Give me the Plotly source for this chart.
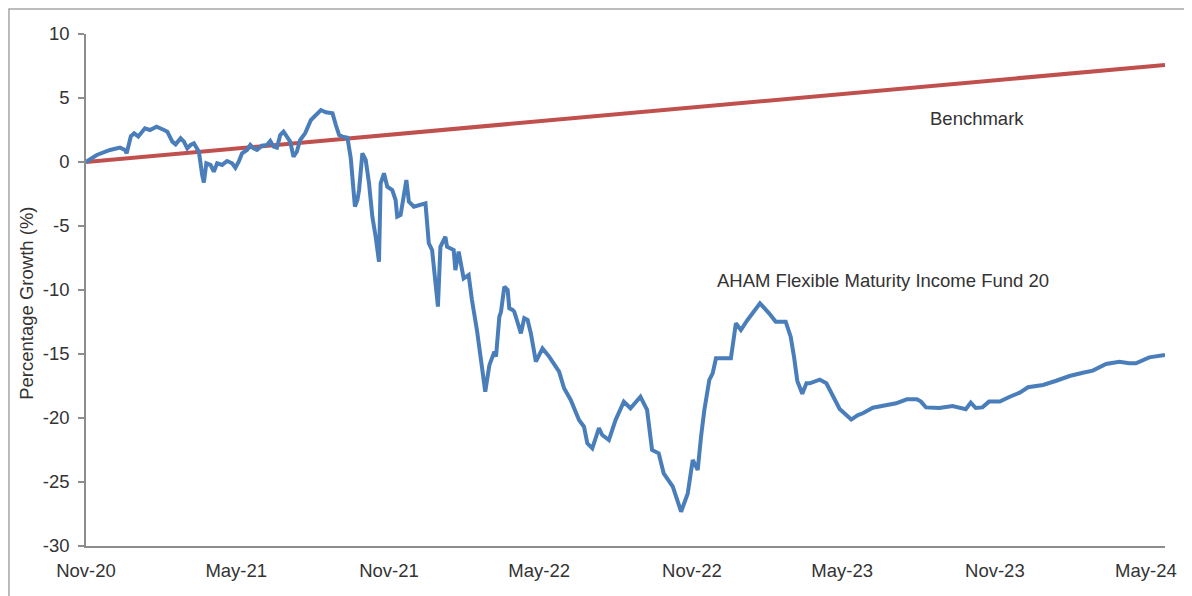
import plotly.graph_objects as go

# ---- data ----
fund_dates = [
    "2020-11-01", "2020-11-14", "2020-11-30", "2020-12-12", "2020-12-18", "2020-12-20", "2020-12-25", "2020-12-29",
    "2021-01-03", "2021-01-11", "2021-01-17", "2021-01-25", "2021-02-03", "2021-02-07", "2021-02-13", "2021-02-17",
    "2021-02-23", "2021-02-27", "2021-03-03", "2021-03-07", "2021-03-11", "2021-03-15", "2021-03-17", "2021-03-21",
    "2021-03-23", "2021-03-26", "2021-03-31", "2021-04-04", "2021-04-08", "2021-04-14", "2021-04-20", "2021-04-26",
    "2021-04-30", "2021-05-04", "2021-05-08", "2021-05-14", "2021-05-18", "2021-05-22", "2021-05-26", "2021-06-01",
    "2021-06-07", "2021-06-11", "2021-06-15", "2021-06-19", "2021-06-23", "2021-06-27", "2021-07-01", "2021-07-05",
    "2021-07-09", "2021-07-13", "2021-07-17", "2021-07-23", "2021-07-30", "2021-08-05", "2021-08-11", "2021-08-17",
    "2021-08-25", "2021-08-29", "2021-09-02", "2021-09-06", "2021-09-12", "2021-09-16", "2021-09-18", "2021-09-21",
    "2021-09-24", "2021-09-26", "2021-09-30", "2021-10-04", "2021-10-08", "2021-10-12", "2021-10-16", "2021-10-20",
    "2021-10-22", "2021-10-26", "2021-10-30", "2021-11-05", "2021-11-09", "2021-11-11", "2021-11-15", "2021-11-19",
    "2021-11-22", "2021-11-25", "2021-12-01", "2021-12-15", "2021-12-19", "2021-12-23", "2021-12-27", "2021-12-30",
    "2022-01-02", "2022-01-08", "2022-01-10", "2022-01-18", "2022-01-20", "2022-01-24", "2022-01-30", "2022-02-05",
    "2022-02-09", "2022-02-15", "2022-02-21", "2022-02-25", "2022-03-02", "2022-03-08", "2022-03-10", "2022-03-14",
    "2022-03-16", "2022-03-20", "2022-03-24", "2022-03-26", "2022-03-30", "2022-04-01", "2022-04-09", "2022-04-13",
    "2022-04-17", "2022-04-21", "2022-04-27", "2022-05-05", "2022-05-13", "2022-05-17", "2022-05-25", "2022-05-31",
    "2022-06-08", "2022-06-18", "2022-06-24", "2022-06-28", "2022-07-04", "2022-07-12", "2022-07-16", "2022-07-24",
    "2022-08-01", "2022-08-11", "2022-08-19", "2022-08-31", "2022-09-08", "2022-09-14", "2022-09-22", "2022-09-28",
    "2022-10-09", "2022-10-19", "2022-10-27", "2022-11-02", "2022-11-08", "2022-11-12", "2022-11-16", "2022-11-22",
    "2022-11-26", "2022-11-30", "2022-12-18", "2022-12-24", "2022-12-30", "2023-01-07", "2023-01-13", "2023-01-22",
    "2023-02-02", "2023-02-10", "2023-02-22", "2023-02-28", "2023-03-04", "2023-03-08", "2023-03-14", "2023-03-19",
    "2023-03-23", "2023-04-04", "2023-04-12", "2023-04-20", "2023-04-28", "2023-05-06", "2023-05-12", "2023-05-20",
    "2023-05-26", "2023-06-07", "2023-06-23", "2023-07-05", "2023-07-18", "2023-07-30", "2023-08-04", "2023-08-10",
    "2023-08-26", "2023-09-11", "2023-09-27", "2023-10-03", "2023-10-09", "2023-10-17", "2023-10-25", "2023-11-07",
    "2023-11-19", "2023-12-01", "2023-12-11", "2023-12-29", "2024-01-14", "2024-01-30", "2024-02-15", "2024-02-27",
    "2024-03-14", "2024-03-30", "2024-04-11", "2024-04-19", "2024-05-05", "2024-05-24",
]
fund_values = [
    0.00, 0.55, 0.94, 1.12, 0.94, 0.68, 2.00, 2.24,
    2.00, 2.63, 2.50, 2.76, 2.50, 2.37, 1.59, 1.38,
    1.85, 1.59, 1.07, 1.33, 1.46, 1.07, 0.80, -1.02,
    -1.60, -0.10, -0.23, -0.76, -0.10, -0.23, 0.08, -0.10,
    -0.45, 0.02, 0.68, 0.94, 1.33, 1.07, 0.94, 1.27,
    1.33, 1.64, 1.20, 1.12, 2.10, 2.37, 1.98, 1.59,
    0.41, 0.80, 1.72, 2.24, 3.28, 3.67, 4.06, 3.88,
    3.80, 2.89, 2.10, 1.98, 1.90, 0.29, -1.15, -3.49,
    -2.97, -2.19, 0.68, 0.16, -1.66, -4.27, -5.84, -7.79,
    -1.66, -0.88, -1.93, -2.19, -2.97, -4.27, -4.14, -2.45,
    -1.41, -3.10, -3.49, -3.23, -6.35, -6.88, -9.74, -11.30,
    -6.62, -5.84, -6.62, -6.88, -8.44, -7.00, -9.09, -8.83,
    -10.78, -13.13, -16.00, -17.95, -15.87, -14.82, -15.20, -12.09,
    -11.70, -9.74, -10.00, -11.43, -11.56, -11.70, -13.39, -12.20,
    -12.34, -13.39, -15.60, -14.56, -15.20, -15.60, -16.38, -17.68,
    -18.59, -20.16, -20.68, -21.98, -22.37, -20.80, -21.33, -21.72,
    -20.16, -18.73, -19.24, -18.34, -19.37, -22.50, -22.76, -24.32,
    -25.37, -27.32, -25.89, -23.28, -24.06, -21.46, -19.37, -17.03,
    -16.51, -15.34, -15.34, -12.60, -13.13, -12.34, -11.82, -11.04,
    -11.82, -12.48, -12.48, -13.65, -15.20, -17.10, -18.10, -17.29,
    -17.29, -17.00, -17.29, -18.30, -19.30, -19.77, -20.12, -19.77,
    -19.63, -19.20, -18.98, -18.85, -18.54, -18.54, -18.72, -19.17,
    -19.22, -19.06, -19.32, -18.80, -19.22, -19.17, -18.72, -18.72,
    -18.34, -18.02, -17.60, -17.42, -17.09, -16.72, -16.46, -16.30,
    -15.78, -15.60, -15.73, -15.73, -15.26, -15.08,
]

bench_dates = ["2020-11-01", "2021-05-01", "2021-11-01", "2022-05-01",
               "2022-11-01", "2023-05-01", "2023-11-01", "2024-05-24"]
bench_values = [0.00, 1.06, 2.13, 3.18, 4.26, 5.31, 6.38, 7.58]

tick_dates = ["2020-11-01", "2021-05-01", "2021-11-01", "2022-05-01",
              "2022-11-01", "2023-05-01", "2023-11-01", "2024-05-01"]
tick_labels = ["Nov-20", "May-21", "Nov-21", "May-22", "Nov-22", "May-23", "Nov-23", "May-24"]

y_tick_vals = [10, 5, 0, -5, -10, -15, -20, -25, -30]
y_tick_labels = ["10", "5", "0", "-5", "-10", "-15", "-20", "-25", "-30"]

FONT = "Liberation Sans, Arial, sans-serif"
TXT = "#333333"
AXIS = "#8c8c8c"
FS = 18.5

fig = go.Figure()
fig.add_trace(go.Scatter(x=bench_dates, y=bench_values, mode="lines",
                         line=dict(color="#C0504D", width=4), name="Benchmark"))
fig.add_trace(go.Scatter(x=fund_dates, y=fund_values, mode="lines",
                         line=dict(color="#4A7EBB", width=4),
                         name="AHAM Flexible Maturity Income Fund 20"))

fig.update_layout(
    width=1184, height=588,
    margin=dict(l=78, r=27, t=26, b=50),
    paper_bgcolor="white", plot_bgcolor="white",
    showlegend=False,
    font=dict(family=FONT, size=FS, color=TXT),
    xaxis=dict(
        type="date", range=["2020-11-01", "2024-05-24"],
        tickmode="array", tickvals=tick_dates, ticktext=tick_labels,
        showgrid=False, zeroline=False,
        showline=True, linecolor=AXIS, linewidth=1.5,
        ticks="", ticklabelstandoff=7,
        tickfont=dict(family=FONT, size=FS, color=TXT),
    ),
    yaxis=dict(
        range=[-30, 10],
        tickmode="array", tickvals=y_tick_vals, ticktext=y_tick_labels,
        showgrid=False, zeroline=False,
        showline=True, linecolor=AXIS, linewidth=1.5,
        ticks="outside", ticklen=6, tickcolor=AXIS, tickwidth=1.5,
        ticklabelstandoff=5,
        tickfont=dict(family=FONT, size=FS, color=TXT),
    ),
    annotations=[
        dict(text="Percentage Growth (%)", xref="paper", yref="paper",
             x=-0.0547, y=0.475, textangle=-90, showarrow=False,
             xanchor="center", yanchor="middle",
             font=dict(family=FONT, size=FS, color=TXT)),
        dict(text="Benchmark", xref="paper", yref="paper",
             x=0.8258, y=0.834, showarrow=False,
             xanchor="center", yanchor="middle",
             font=dict(family=FONT, size=FS, color=TXT)),
        dict(text="AHAM Flexible Maturity Income Fund 20", xref="paper", yref="paper",
             x=0.7386, y=0.5195, showarrow=False,
             xanchor="center", yanchor="middle",
             font=dict(family=FONT, size=FS, color=TXT)),
    ],
    shapes=[
        dict(type="rect", xref="paper", yref="paper",
             x0=-0.0714, x1=1.04, y0=-0.12, y1=1.0488,
             line=dict(color="#a6a6a6", width=1.5), layer="below"),
    ],
)

fig.write_html("out.html")
